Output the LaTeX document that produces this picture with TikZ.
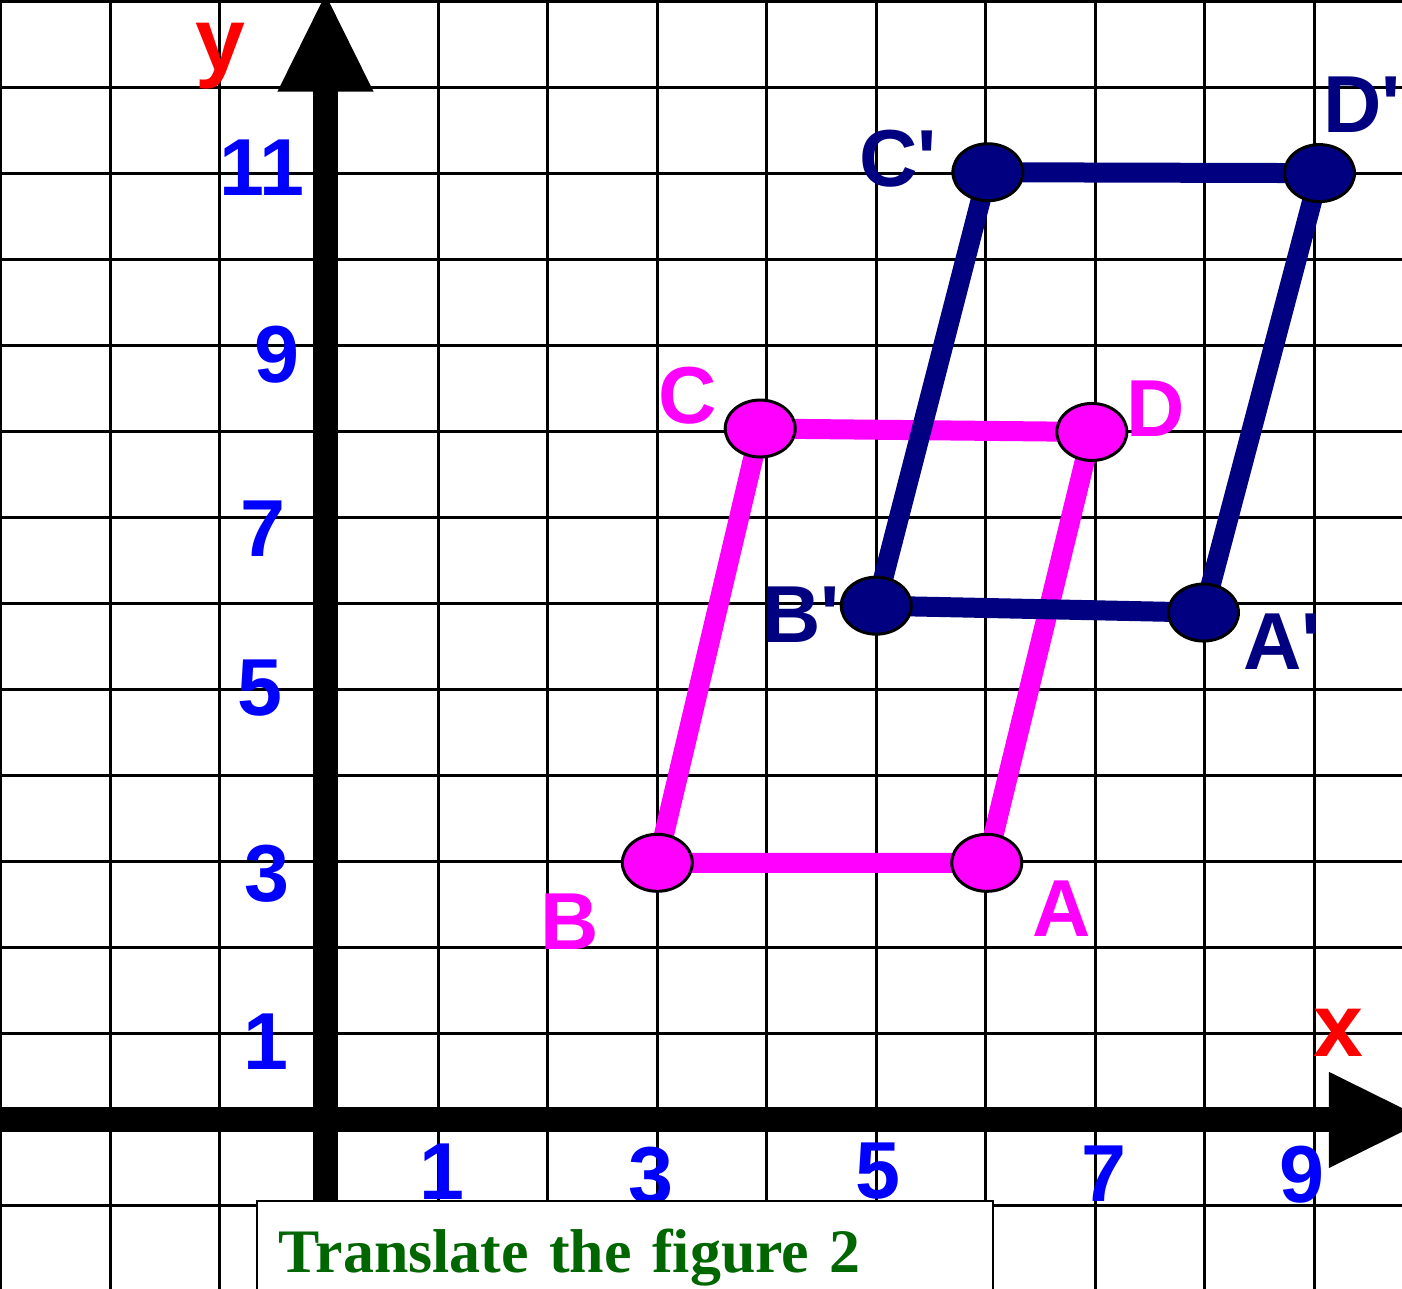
\documentclass[tikz,border=0pt]{standalone}
\usepackage{fontspec}
\setmainfont{Liberation Serif}
\newfontfamily\labelfont{Liberation Sans}[Ligatures=TeXOff]
\usetikzlibrary{arrows.meta,shapes.geometric}
\definecolor{figpink}{HTML}{FF00FF}
\definecolor{fignavy}{HTML}{000080}
\definecolor{tickblue}{HTML}{0000FF}
\definecolor{axisred}{HTML}{FF0000}
\definecolor{titlegreen}{HTML}{006600}
\newcommand{\lblsize}{\labelfont\bfseries\fontsize{23pt}{27pt}\selectfont}

\begin{document}
\begin{tikzpicture}[
  x=1.0945cm, y=0.86cm,
  gridline/.style={draw=black, line width=0.03cm},
  axisline/.style={draw=black, line width=0.25cm, -{Triangle[length=1cm,width=0.88cm]}},
  sideline/.style={draw=#1, line width=0.2cm},
  vertex/.style={ellipse, draw=black, line width=0.03cm, fill=#1,
                 minimum width=0.70cm, minimum height=0.57cm, inner sep=0pt},
  ticklabel/.style={font=\lblsize, text=tickblue, anchor=base, inner sep=0pt},
  ptlabel/.style={font=\lblsize, text=#1, anchor=base, inner sep=0pt},
  axislabel/.style={font=\labelfont\bfseries\fontsize{25.5pt}{30pt}\selectfont,
                    text=axisred, anchor=base, inner sep=0pt},
  titlebox/.style={draw=black, line width=0.02cm, fill=white, anchor=north west,
                   inner xsep=0.22cm, inner ysep=0.28cm, text width=6.92cm,
                   text height=0.44cm, text depth=0.2cm, align=left,
                   font=\bfseries\fontsize{17.6pt}{22pt}\selectfont, text=titlegreen},
]
\useasboundingbox (-3.006,-1.965) rectangle (9.804,13.023);
\clip (-3.006,-1.965) rectangle (9.804,13.023);

%====================== GRID ======================
\foreach \gx in {-3,...,9} \draw[gridline] (\gx,-2.1) -- (\gx,13.1);
\foreach \gy in {-1,...,13} \draw[gridline] (-3.1,\gy) -- (9.9,\gy);

%====================== AXES ======================
\draw[axisline] (-0.032,-2.1) -- (-0.032,13.12);
\draw[axisline] (-3.1,0) -- (10.05,0);

%====================== FIGURE AND IMAGE ======================
\coordinate (A) at (6.01,2.99);
\coordinate (B) at (3,2.99);
\coordinate (C) at (3.94,8.04);
\coordinate (D) at (6.97,8.0);
\coordinate (Ap) at (7.99,5.9);
\coordinate (Bp) at (5,5.98);
\coordinate (Cp) at (6.02,11.02);
\coordinate (Dp) at (9.05,11.01);

\draw[sideline=figpink] (B) -- (A) -- (D) -- (C) -- cycle;
\draw[sideline=fignavy] (Bp) -- (Ap) -- (Dp) -- (Cp) -- cycle;

\node[vertex=figpink] (dotA) at (A) {};
\node[vertex=figpink] (dotB) at (B) {};
\node[vertex=figpink] (dotC) at (C) {};
\node[vertex=figpink] (dotD) at (D) {};
\node[vertex=fignavy] (dotAp) at (Ap) {};
\node[vertex=fignavy] (dotBp) at (Bp) {};
\node[vertex=fignavy] (dotCp) at (Cp) {};
\node[vertex=fignavy] (dotDp) at (Dp) {};

%====================== LABELS ======================
\node[ptlabel=figpink] (labA) at (6.697,2.128) {A};
\node[ptlabel=figpink] (labB) at (2.202,1.977) {B};
\node[ptlabel=figpink] (labC) at (3.280,8.093) {C};
\node[ptlabel=figpink] (labD) at (7.556,7.942) {D};
\node[ptlabel=fignavy] (labAp) at (8.707,5.233) {A'};
\node[ptlabel=fignavy] (labBp) at (4.313,5.547) {B'};
\node[ptlabel=fignavy] (labCp) at (5.199,10.860) {C'};
\node[ptlabel=fignavy] (labDp) at (9.438,11.477) {D'};

\node[axislabel] (ylab) at (-0.996,12.198) {y};
\node[axislabel] (xlab) at (9.219,0.733) {x};

\node[ticklabel] (y11) at (-0.612,10.744) {11};
\node[ticklabel] (y9) at (-0.475,8.581) {9};
\node[ticklabel] (y7) at (-0.603,6.547) {7};
\node[ticklabel] (y5) at (-0.630,4.698) {5};
\node[ticklabel] (y3) at (-0.566,2.535) {3};
\node[ticklabel] (y1) at (-0.576,0.581) {1};

\node[ticklabel] (x1) at (1.032,-0.930) {1};
\node[ticklabel] (x3) at (2.942,-0.977) {3};
\node[ticklabel] (x5) at (5.016,-0.919) {5};
\node[ticklabel] (x7) at (7.081,-0.953) {7};
\node[ticklabel] (x9) at (8.890,-0.965) {9};

%====================== TITLE ======================
\node[titlebox] (title) at (-0.667,-0.930) {Translate the figure 2};
\end{tikzpicture}
\end{document}
